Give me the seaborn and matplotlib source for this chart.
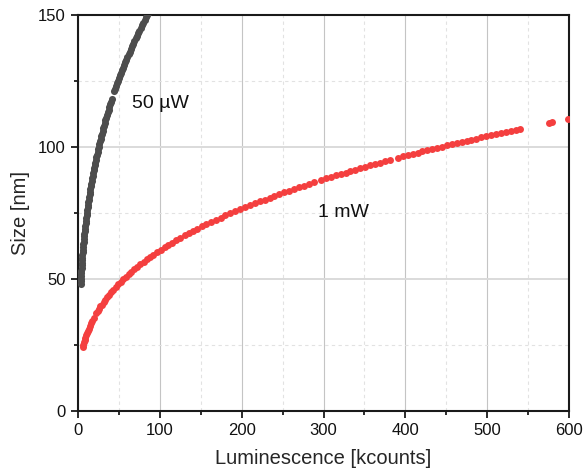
import numpy as np
import pandas as pd
import matplotlib
matplotlib.use("Agg")
import matplotlib.pyplot as plt
import seaborn as sns
from matplotlib.ticker import MultipleLocator

# 1 mW excitation: luminescence (kcounts) and particle size (nm)
lum_1mw = [5.4, 6, 6.8, 7.6, 8.5, 9.4, 10.4, 11.5, 12.6, 14, 15.5, 17, 19,
           22, 23.5, 25, 27, 29, 31, 33, 35.5, 38, 40.5, 43, 46, 49, 52, 55,
           58, 61.5, 65, 68.5, 72, 76, 80, 84, 88, 92, 96.5, 101, 105.5, 110,
           115, 120, 125, 130, 135, 140, 145.5, 151, 156.5, 162, 168, 174,
           180, 186, 192, 198, 204, 210, 216, 222, 228, 234, 240, 246, 252,
           258, 264, 270, 276, 282, 288, 297, 303, 309, 315, 321, 327, 333,
           339, 345, 351, 357, 363, 369, 375, 381, 391, 397, 403, 409, 415,
           421, 427, 433, 439, 445, 451, 457, 463, 469, 475, 481, 487, 493,
           499, 505, 511, 517, 523, 529, 535, 541, 576, 580, 599]
size_1mw = [24.0, 24.9, 25.9, 26.7, 27.7, 28.5, 29.4, 30.2, 31.1, 32.1, 33.2,
            34.1, 35.2, 37.0, 37.8, 38.5, 39.5, 40.2, 41.1, 42.0, 43.1, 44.0,
            45.0, 45.9, 46.9, 47.9, 48.9, 49.8, 50.7, 51.7, 52.7, 53.6, 54.5,
            55.5, 56.4, 57.4, 58.3, 59.1, 60.1, 61.0, 61.9, 62.8, 63.7, 64.6,
            65.5, 66.4, 67.2, 68.0, 68.9, 69.8, 70.6, 71.4, 72.3, 73.1, 74.0,
            74.8, 75.6, 76.3, 77.1, 77.9, 78.6, 79.3, 80.0, 80.7, 81.4, 82.1,
            82.7, 83.4, 84.0, 84.7, 85.3, 85.9, 86.5, 87.4, 88.0, 88.6, 89.1,
            89.7, 90.2, 90.8, 91.3, 91.9, 92.4, 92.9, 93.5, 94.0, 94.5, 95.0,
            95.8, 96.3, 96.8, 97.2, 97.7, 98.2, 98.7, 99.1, 99.6, 100.0, 100.5,
            100.9, 101.3, 101.8, 102.2, 102.6, 103.1, 103.5, 103.9, 104.3,
            104.7, 105.1, 105.5, 105.9, 106.3, 106.7, 109.0, 109.3, 110.4]

# 50 uW excitation
lum_50uw = [2.77, 2.94, 3.13, 3.32, 3.52, 3.72, 3.94, 4.16, 4.39, 4.63, 4.88,
            5.13, 5.40, 5.67, 5.96, 6.25, 6.55, 6.87, 7.19, 7.52, 7.86, 8.21,
            8.58, 8.95, 9.33, 9.73, 10.13, 10.55, 10.97, 11.41, 11.86, 12.33,
            12.80, 13.29, 13.78, 14.29, 14.82, 15.35, 15.90, 16.46, 17.04,
            17.62, 18.22, 18.84, 19.47, 20.11, 20.76, 21.43, 22.12, 22.82,
            23.53, 24.26, 25.00, 25.76, 26.53, 27.32, 28.12, 28.94, 29.77,
            30.63, 31.49, 32.37, 33.27, 34.19, 35.12, 36.07, 37.04, 38.02,
            39.02, 40.04, 41.07, 44.29, 45.39, 46.52, 47.66, 48.83, 50.01,
            51.21, 52.43, 53.67, 54.92, 56.20, 57.50, 58.81, 60.15, 61.51,
            62.88, 64.28, 65.70, 67.14, 68.60, 70.08, 71.58, 73.10, 74.65,
            76.21, 77.80, 79.41, 81.04, 82.69, 84.37, 86.07]
size_50uw = [48, 49, 50, 51, 52, 53, 54, 55, 56, 57, 58, 59, 60, 61, 62, 63,
             64, 65, 66, 67, 68, 69, 70, 71, 72, 73, 74, 75, 76, 77, 78, 79,
             80, 81, 82, 83, 84, 85, 86, 87, 88, 89, 90, 91, 92, 93, 94, 95,
             96, 97, 98, 99, 100, 101, 102, 103, 104, 105, 106, 107, 108, 109,
             110, 111, 112, 113, 114, 115, 116, 117, 118, 121, 122, 123, 124,
             125, 126, 127, 128, 129, 130, 131, 132, 133, 134, 135, 136, 137,
             138, 139, 140, 141, 142, 143, 144, 145, 146, 147, 148, 149, 150,
             151]

series_names = ["50 µW", "1 mW"]
series_colors = ["#4d4d4d", "#f43f3f"]
marker_sizes = [26, 25]

df = pd.concat([
    pd.DataFrame({"lum": lum_50uw, "size": size_50uw, "power": series_names[0]}),
    pd.DataFrame({"lum": lum_1mw, "size": size_1mw, "power": series_names[1]}),
], ignore_index=True)

sns.set_theme(style="white")
plt.rcParams["font.family"] = ["Liberation Sans", "DejaVu Sans"]

fig = plt.figure(figsize=(5.83, 4.76), dpi=100)
ax = fig.add_axes([0.1343, 0.1372, 0.8412, 0.8319])

for name, col, ms in zip(series_names, series_colors, marker_sizes):
    sns.scatterplot(data=df[df["power"] == name], x="lum", y="size",
                    color=col, s=ms, linewidth=0, legend=False,
                    ax=ax, zorder=3)

ax.set_xlim(0, 600)
ax.set_ylim(0, 150)
ax.xaxis.set_major_locator(MultipleLocator(100))
ax.xaxis.set_minor_locator(MultipleLocator(50))
ax.yaxis.set_major_locator(MultipleLocator(50))
ax.yaxis.set_minor_locator(MultipleLocator(25))

# grid: solid major, dashed minor
ax.grid(which="major", axis="x", color="#c4c4c4", lw=0.8, ls="-")
ax.grid(which="major", axis="y", color="#dadada", lw=1.4, ls="-")
ax.grid(which="minor", color="#e2e2e2", lw=0.8, ls=(0, (3, 3)))
ax.set_axisbelow(True)

for sp in ax.spines.values():
    sp.set_color("#1a1a1a")
    sp.set_linewidth(1.5)

ax.tick_params(which="both", direction="out", bottom=True, left=True,
               top=False, right=False, color="#1a1a1a", width=1.3)
ax.tick_params(which="major", length=5, labelsize=12, pad=4,
               labelcolor="#111111")
ax.tick_params(which="minor", length=3)

ax.set_xlabel("Luminescence [kcounts]", fontsize=14.5, labelpad=8)
ax.set_ylabel("Size [nm]", fontsize=14.5, labelpad=6)

ax.text(100, 116.5, "50 µW", fontsize=14, ha="center", va="center",
        color="#111111")
ax.text(324, 75.2, "1 mW", fontsize=14, ha="center", va="center",
        color="#111111")

fig.savefig("out.png", dpi=100)
